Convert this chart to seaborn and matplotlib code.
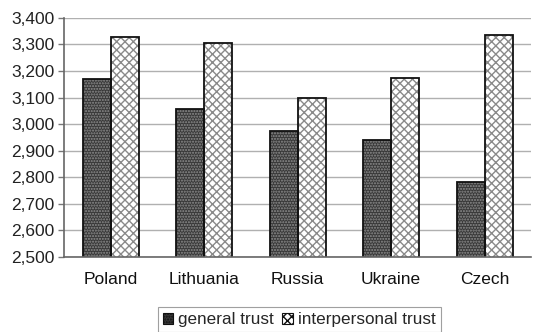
import matplotlib
matplotlib.use("Agg")
import matplotlib.pyplot as plt
import matplotlib.ticker as mticker
from matplotlib.patches import Rectangle, Patch
import seaborn as sns
import pandas as pd
import numpy as np

countries = ["Poland", "Lithuania", "Russia", "Ukraine", "Czech"]
general_trust = [3170, 3058, 2973, 2940, 2783]
interpersonal_trust = [3328, 3305, 3100, 3174, 3336]
series_names = ["general trust", "interpersonal trust"]

df = pd.DataFrame({
    "country": countries * 2,
    "value": general_trust + interpersonal_trust,
    "series": [series_names[0]] * len(countries) + [series_names[1]] * len(countries),
})

sns.set_style("white")
plt.rcParams["font.family"] = ["Liberation Sans", "DejaVu Sans"]

fig = plt.figure(figsize=(5.34, 3.32), dpi=100)
ax = fig.add_axes([0.12, 0.226, 0.875, 0.72])

styles = {
    series_names[0]: dict(face="#383838", hatch="......", hcolor="#8f8f8f"),
    series_names[1]: dict(face="white", hatch="xxxx", hcolor="#8a8a8a"),
}

sns.barplot(data=df, x="country", y="value", hue="series", order=countries,
            hue_order=series_names, width=0.6, ax=ax, legend=False,
            bottom=0)

for container, name in zip(ax.containers, series_names):
    st = styles[name]
    for bar in container:
        bar.set_facecolor(st["face"])
        bar.set_hatch(st["hatch"])
        bar.set_edgecolor(st["hcolor"])
        bar.set_linewidth(0)
        # solid outline on top of the hatched fill
        ax.add_patch(Rectangle(bar.get_xy(), bar.get_width(), bar.get_height(),
                               fill=False, edgecolor="#111111", linewidth=1.3,
                               zorder=bar.get_zorder() + 0.1))

ax.set_ylim(2500, 3400)
ax.set_xlim(-0.5, len(countries) - 0.5)
ax.yaxis.set_major_locator(mticker.MultipleLocator(100))
ax.yaxis.set_major_formatter(mticker.FuncFormatter(lambda v, p: f"{int(v):,}"))
ax.grid(axis="y", color="#b0b0b0", linewidth=1.0)
ax.set_axisbelow(True)
ax.set_xlabel("")
ax.set_ylabel("")

ax.xaxis.set_minor_locator(mticker.FixedLocator(np.arange(-0.5, len(countries), 1.0)))
ax.tick_params(axis="x", which="major", length=0, pad=11, labelsize=12.5, colors="#111111")
ax.tick_params(axis="x", which="minor", length=5, width=1, color="#777777", direction="out")
ax.tick_params(axis="y", which="major", length=4, width=1, color="#777777", direction="out",
               labelsize=12.5, labelcolor="#222222", left=True, pad=3)

for s in ["top", "right"]:
    ax.spines[s].set_visible(False)
for s in ["left", "bottom"]:
    ax.spines[s].set_color("#666666")
    ax.spines[s].set_linewidth(1.2)

handles = [Patch(facecolor=styles[n]["face"], hatch=styles[n]["hatch"],
                 edgecolor="#111111", linewidth=0.8) for n in series_names]
leg = fig.legend(handles, series_names, loc="upper center", bbox_to_anchor=(0.56, 0.075),
                 ncol=2, frameon=True, fancybox=False, fontsize=12.3,
                 handlelength=0.6, handleheight=0.6, handletextpad=0.3,
                 columnspacing=0.5, borderpad=0.3, borderaxespad=0)
leg.get_frame().set_edgecolor("#888888")
leg.get_frame().set_linewidth(0.8)

fig.savefig("out.png", dpi=100)
